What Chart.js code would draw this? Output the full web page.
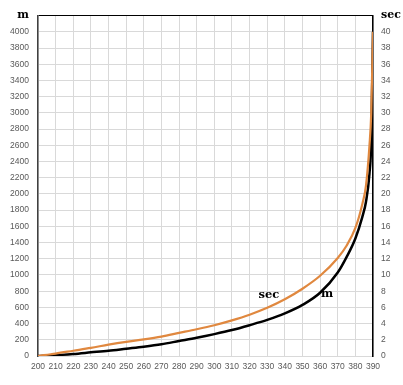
<!DOCTYPE html>
<html>
<head>
<meta charset="utf-8">
<script src="https://cdn.jsdelivr.net/npm/chart.js@4"></script>
<style>
  html, body { margin: 0; padding: 0; background: #fff; }
  #wrap { width: 403px; height: 385px; }
</style>
</head>
<body>
<div id="wrap"><canvas id="chart" width="403" height="385"></canvas></div>
<script>
// x values (speed), distance in m (left axis), time in sec (right axis)
const speeds  = [200, 210, 220, 230, 240, 250, 260, 270, 280, 290, 300, 310, 320, 330, 340, 350, 360, 370, 375, 380, 384, 386, 388, 389, 390];
const meters  = [0, 10, 25, 45, 65, 90, 115, 145, 185, 225, 270, 320, 380, 445, 525, 630, 780, 1030, 1220, 1450, 1720, 1900, 2250, 2650, 4000];
const seconds = [0, 0.3, 0.65, 1.0, 1.4, 1.75, 2.05, 2.4, 2.85, 3.3, 3.8, 4.4, 5.1, 5.95, 7.0, 8.3, 9.9, 12.1, 13.6, 15.8, 18.8, 21, 26, 30, 40];

const leftUnit = 'm';
const rightUnit = 'sec';

// inline series labels, in data units (x, m)
const seriesLabels = [
    { text: 'sec', x: 331, y: 750 },
    { text: 'm', x: 364, y: 765 }
];

const unitFont = { family: 'DejaVu Serif', size: 11, weight: 'bold' };
const tickFont = { family: 'Liberation Sans', size: 8.5 };

const labelPlugin = {
    id: 'seriesLabels',
    afterDatasetsDraw(chart) {
        const ctx = chart.ctx;
        const xs = chart.scales.x, ys = chart.scales.y;
        ctx.save();
        ctx.font = 'bold 11.5px "DejaVu Serif"';
        ctx.fillStyle = '#000';
        ctx.textAlign = 'center';
        ctx.textBaseline = 'middle';
        for (let l of seriesLabels) {
            ctx.fillText(l.text, xs.getPixelForValue(l.x), ys.getPixelForValue(l.y));
        }
        ctx.restore();
    }
};

new Chart(document.getElementById('chart'), {
    type: 'line',
    data: {
        datasets: [{
            label: 'sec',
            data: speeds.map((x, i) => ({ x: x, y: seconds[i] })),
            yAxisID: 'y1',
            borderColor: '#e0883f',
            borderWidth: 2.2,
            pointRadius: 0,
            cubicInterpolationMode: 'monotone'
        },
        {
            label: 'm',
            data: speeds.map((x, i) => ({ x: x, y: meters[i] })),
            yAxisID: 'y',
            borderColor: '#000',
            borderWidth: 2.5,
            pointRadius: 0,
            cubicInterpolationMode: 'monotone'
        }]
    },
    options: {
        responsive: false,
        animation: false,
        layout: { padding: { top: 14, left: 0, right: 0, bottom: 0 } },
        plugins: {
            legend: { display: false },
            tooltip: { enabled: false }
        },
        scales: {
            x: {
                type: 'linear',
                min: 200,
                max: 390,
                ticks: { stepSize: 10, color: '#595959', font: tickFont, padding: 6, maxRotation: 0, autoSkip: false },
                grid: { color: '#d9d9d9', drawTicks: false },
                border: { color: '#d9d9d9' },
                afterFit(s) { s.height = 29; }
            },
            y: {
                position: 'left',
                min: 0,
                max: 4200,
                ticks: {
                    stepSize: 200,
                    padding: 9,
                    color: c => c.tick.value === 4200 ? '#000' : '#595959',
                    font: c => c.tick && c.tick.value === 4200 ? unitFont : tickFont,
                    callback: v => v === 4200 ? leftUnit : v
                },
                grid: {
                    color: c => c.tick.value === 4200 ? '#000' : '#d9d9d9',
                    drawTicks: false
                },
                border: { color: '#404040', width: 1.5 },
                afterFit(s) { s.width = 38; }
            },
            y1: {
                position: 'right',
                min: 0,
                max: 42,
                ticks: {
                    stepSize: 2,
                    padding: 8,
                    color: c => c.tick.value === 42 ? '#000' : '#595959',
                    font: c => c.tick && c.tick.value === 42 ? unitFont : tickFont,
                    callback: v => v === 42 ? rightUnit : v
                },
                grid: { drawOnChartArea: false, drawTicks: false },
                border: { color: '#000', width: 1.5 },
                afterFit(s) { s.width = 30; }
            }
        }
    },
    plugins: [labelPlugin]
});
</script>
</body>
</html>
